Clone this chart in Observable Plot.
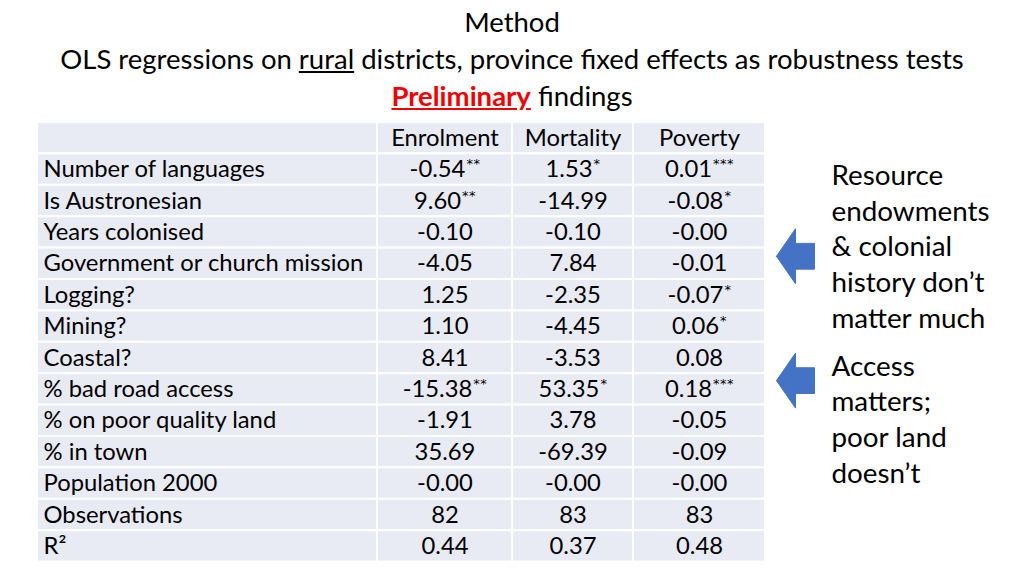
<!DOCTYPE html>
<html><head><meta charset="utf-8">
<script src="https://cdn.jsdelivr.net/npm/d3@7"></script>
<script src="https://cdn.jsdelivr.net/npm/@observablehq/plot@0.6"></script>
<style>
body{margin:0;background:#fff;font-family:Lato,sans-serif;width:1024px;height:576px;overflow:hidden;color:#000}
#title{height:120px;text-align:center;font-size:27.5px;line-height:37px;padding-top:3px;box-sizing:border-box}
#title .pre{color:#f00000;font-weight:bold;text-decoration:underline}
#chart svg{display:block}
</style></head><body>
<div id="title">
<div>Method</div>
<div>OLS regressions on <u>rural</u> districts, province fixed effects as robustness tests</div>
<div><span class="pre">Preliminary</span> findings</div>
</div>
<div id="chart"></div>
<script>
// ---- data ----
const columns = ["Enrolment", "Mortality", "Poverty"];
const variables = ["Number of languages", "Is Austronesian", "Years colonised", "Government or church mission",
  "Logging?", "Mining?", "Coastal?", "% bad road access", "% on poor quality land", "% in town",
  "Population 2000", "Observations", "R²"];
const enrolment = ["-0.54", "9.60", "-0.10", "-4.05", "1.25", "1.10", "8.41", "-15.38", "-1.91", "35.69", "-0.00", "82", "0.44"];
const enrolmentStars = ["**", "**", "", "", "", "", "", "**", "", "", "", "", ""];
const mortality = ["1.53", "-14.99", "-0.10", "7.84", "-2.35", "-4.45", "-3.53", "53.35", "3.78", "-69.39", "-0.00", "83", "0.37"];
const mortalityStars = ["*", "", "", "", "", "", "", "*", "", "", "", "", ""];
const poverty = ["0.01", "-0.08", "-0.00", "-0.01", "-0.07", "0.06", "0.08", "0.18", "-0.05", "-0.09", "-0.00", "83", "0.48"];
const povertyStars = ["***", "*", "", "", "*", "*", "", "***", "", "", "", "", ""];
const notes = ["Resource\nendowments\n& colonial\nhistory don’t\nmatter much", "Access\nmatters;\npoor land\ndoesn’t"];

// ---- layout ----
const colEdges = [37, 377, 512, 633, 765];
const nRows = variables.length + 1;
const noteRows = [3.9, 9.4];
const arrowRows = [4.26, 8.22];
const cellFill = "#e9ebf4";
const blue = "#4472c4";
const fs = 23.8;

const valueCols = [[enrolment, enrolmentStars], [mortality, mortalityStars], [poverty, povertyStars]];
const cells = [];
for (let r = 0; r < nRows; r++) for (let c = 0; c < 4; c++)
  cells.push({x1: colEdges[c], x2: colEdges[c + 1], y1: r, y2: r + 1});
const centers = columns.map((_, i) => (colEdges[i + 1] + colEdges[i + 2]) / 2);
const headers = columns.map((name, i) => ({name, x: centers[i], y: 0.5}));
const labels = variables.map((name, i) => ({name, x: colEdges[0] + 6, y: i + 1.5}));
const values = [];
valueCols.forEach(([vals, stars], c) => vals.forEach((v, i) =>
  values.push({text: v + stars[i], x: centers[c], y: i + 1.5})));
const noteData = notes.map((t, i) => ({t, x: 831, y: noteRows[i]}));
const arrowPts = [];
arrowRows.forEach((c, id) => {
  const h = 0.876, s = 0.41;
  [[776, c], [795, c - h], [795, c - s], [814, c - s], [814, c + s], [795, c + s], [795, c + h], [776, c]]
    .forEach(([x, y]) => arrowPts.push({id, x, y}));
});

const svg = Plot.plot({
  width: 1024, height: 456,
  margin: 0,
  x: {domain: [0, 1024], range: [0, 1024], axis: null},
  y: {domain: [0, nRows], range: [2, 441.6], axis: null},
  style: {fontFamily: "Lato, sans-serif", fontSize: fs + "px", color: "#000", background: "#fff"},
  marks: [
    Plot.rect(cells, {x1: "x1", x2: "x2", y1: "y1", y2: "y2", fill: cellFill, stroke: "#fff", strokeWidth: 2}),
    Plot.text(headers, {x: "x", y: "y", text: "name", fill: "#000", fontSize: fs}),
    Plot.text(labels, {x: "x", y: "y", text: "name", textAnchor: "start", fill: "#000", fontSize: fs}),
    Plot.text(values, {x: "x", y: "y", text: "text", fill: "#000", fontSize: fs}),
    Plot.line(arrowPts, {x: "x", y: "y", z: "id", fill: blue, stroke: blue, strokeWidth: 1, curve: "linear"}),
    Plot.text(noteData, {x: "x", y: "y", text: "t", textAnchor: "start", lineAnchor: "middle", lineHeight: 1.284, fontSize: 27.8, fill: "#000"})
  ]
});

d3.select(svg).selectAll("text").each(function() {
  const t = this.textContent;
  const m = /^(.*?)(\*+)$/.exec(t);
  if (!m || this.querySelector("tspan")) return;
  const el = d3.select(this);
  el.text(null);
  el.append("tspan").text(m[1]);
  el.append("tspan").attr("dy", "-9").attr("dx", "1").attr("font-size", 13)
    .attr("letter-spacing", "0.5").attr("font-family", "DejaVu Sans").text(m[2]);
});
document.getElementById("chart").appendChild(svg);
</script>
</body></html>
